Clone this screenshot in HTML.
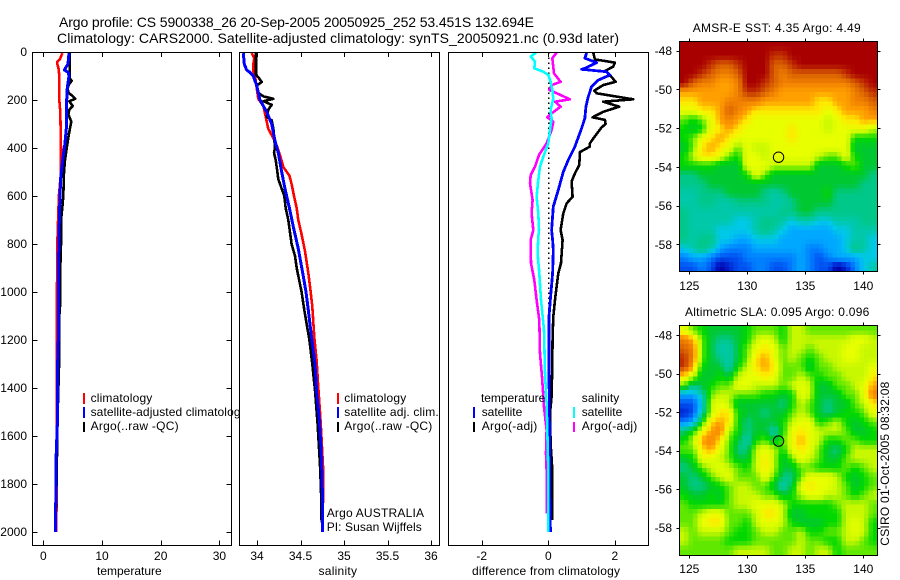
<!DOCTYPE html>
<html>
<head>
<meta charset="utf-8">
<style>
html,body{margin:0;padding:0;background:#fff;width:900px;height:580px;overflow:hidden}
svg{display:block}
text{font-family:"Liberation Sans",sans-serif;font-size:12px;fill:#000}
.title{font-size:14px}
</style>
</head>
<body>
<svg id="chart" xmlns="http://www.w3.org/2000/svg" width="900" height="580" viewBox="0 0 900 580">
<rect x="0" y="0" width="900" height="580" fill="#fff"/>
<text class="title" x="59" y="27" textLength="475" lengthAdjust="spacing">Argo profile: CS 5900338_26 20-Sep-2005 20050925_252 53.451S 132.694E</text>
<text class="title" x="57" y="43" textLength="562" lengthAdjust="spacing">Climatology: CARS2000. Satellite-adjusted climatology: synTS_20050921.nc (0.93d later)</text>

<g id="panel-temp"></g>
<g>
  <rect x="83" y="393" width="2" height="11" fill="#f00"/>
  <rect x="83" y="407" width="2" height="11" fill="#00f"/>
  <rect x="83" y="422" width="2" height="10" fill="#000"/>
  <text x="90.6" y="402" textLength="61.7">climatology</text>
  <text x="90.6" y="416" textLength="156">satellite-adjusted climatology</text>
  <text x="90.6" y="430" textLength="88">Argo(..raw -QC)</text>
</g>
<text x="97" y="575" textLength="64.7">temperature</text>

<g id="panel-sal"></g>
<g>
  <rect x="337" y="393" width="2" height="11" fill="#f00"/>
  <rect x="337" y="407" width="2" height="11" fill="#00f"/>
  <rect x="337" y="422" width="2" height="10" fill="#000"/>
  <text x="344.3" y="402" textLength="62">climatology</text>
  <text x="344.3" y="416" textLength="94.4">satellite adj. clim.</text>
  <text x="344.3" y="430" textLength="88">Argo(..raw -QC)</text>
  <text x="326.7" y="517" textLength="97.3">Argo AUSTRALIA</text>
  <text x="326.7" y="531" textLength="95">PI: Susan Wijffels</text>
</g>
<text x="318.5" y="575" textLength="38.5">salinity</text>

<g id="panel-diff"></g>
<g>
  <text x="481" y="402" textLength="64.3">temperature</text>
  <text x="581.7" y="402" textLength="37.6">salinity</text>
  <rect x="473" y="407" width="2" height="11" fill="#00f"/>
  <rect x="473" y="422" width="2" height="10" fill="#000"/>
  <rect x="573" y="407" width="2" height="11" fill="#0ff"/>
  <rect x="573" y="422" width="2" height="10" fill="#f0f"/>
  <text x="481.7" y="416" textLength="40.6">satellite</text>
  <text x="481.7" y="430" textLength="55.6">Argo(-adj)</text>
  <text x="581.7" y="416" textLength="40.6">satellite</text>
  <text x="581.7" y="430" textLength="55.6">Argo(-adj)</text>
</g>
<text x="472" y="575" textLength="148">difference from climatology</text>

<g id="map-sst"></g>
<text x="692.7" y="32" textLength="168">AMSR-E SST: 4.35 Argo: 4.49</text>
<g id="map-sla"></g>
<text x="685" y="316" textLength="184.3">Altimetric SLA: 0.095 Argo: 0.096</text>
<text transform="translate(889,545.7) rotate(-90)" x="0" y="0" textLength="164">CSIRO 01-Oct-2005 08:32:08</text>
</svg>

<script>
// ---- depth axis ----
const depthTicks = [0,200,400,600,800,1000,1200,1400,1600,1800,2000];
// ---- temperature panel ----
const tempTicks = [0,10,20,30];
const tempClimDepth = [5,30,40,50,70,100,200,250,400,500,600,800,1000,1130,1350,1600,1800,2000];
const tempClimValue = [3.24,2.84,2.39,2.39,2.61,2.73,2.73,2.9,3.01,3.01,2.65,2.39,2.33,2.27,2.27,2.3,2.3,2.2];
const tempArgoDepth = [5,100,110,120,135,150,170,180,195,205,225,240,260,290,340,400,450,500,600,650,700,800,900,1000,1060,1100,1200,1310,1500,1800,1960];
const tempArgoValue = [4.49,4.49,4.49,4.83,4.37,4.15,4.26,4.83,5.45,4.43,5.0,4.43,4.26,4.77,4.37,3.98,3.69,3.52,3.41,3.24,3.01,3.01,2.9,2.84,2.84,2.73,2.73,2.67,2.45,2.25,2.1];
const tempSatDepth = [5,50,75,85,100,150,200,300,380,450,530,600,700,800,900,1000,1200,1350,1550,1680,1880,1881,2000];
const tempSatValue = [4.37,4.2,3.58,4.26,4.37,4.09,3.98,3.98,3.69,3.3,2.95,2.84,2.73,2.67,2.56,2.56,2.56,2.39,2.39,2.2,2.2,2.05,2.05];
// ---- salinity panel ----
const salTicks = [34,34.5,35,35.5,36];
const salTickLabels = ['34','34.5','35','35.5','36'];
const salClimDepth = [5,25,50,80,100,150,195,225,320,360,390,430,480,515,550,600,650,700,760,830,920,1000,1060,1190,1290,1400,1500,1570,1670,1750,1880];
const salClimValue = [33.939,33.969,33.958,33.958,33.977,33.996,34.015,34.073,34.13,34.188,34.226,34.264,34.303,34.372,34.398,34.425,34.456,34.475,34.513,34.552,34.59,34.617,34.636,34.659,34.686,34.705,34.724,34.736,34.751,34.762,34.762];
const salArgoDepth = [5,95,105,125,140,170,185,195,205,220,240,270,285,320,350,400,420,450,500,530,600,650,700,800,850,900,1000,1075,1200,1300,1410,1550,1720,1825,1960];
const salArgoValue = [33.989,33.989,34.015,34.054,33.996,34.015,34.073,34.188,34.073,34.169,34.13,34.111,34.169,34.188,34.195,34.207,34.195,34.215,34.234,34.245,34.314,34.33,34.36,34.398,34.437,34.456,34.513,34.544,34.602,34.636,34.667,34.697,34.724,34.736,34.743];
const salSatDepth = [5,50,75,85,100,140,200,250,300,370,420,500,570,650,730,820,920,1000,1075,1190,1300,1420,1530,1650,1770,1900,2000];
const salSatValue = [33.843,33.854,33.881,33.92,33.958,33.996,34.034,34.111,34.169,34.207,34.245,34.284,34.322,34.372,34.418,34.475,34.525,34.563,34.59,34.628,34.667,34.686,34.716,34.736,34.747,34.755,34.755];
// ---- difference panel ----
const diffTicks = [-2,0,2];
const diffTempArgoDepth = [3,31,44,61,78,96,124,138,161,172,197,207,228,249,272,283,300,314,360,381,394,417,471,506,540,603,631,672,742,783,880,922,978,1033,1103,1186,1297,1436,1505,1630,1742,1950];
const diffTempArgoValue = [1.35,1.4,2.0,1.95,1.72,1.85,2.02,1.65,1.38,1.45,2.55,1.65,2.13,1.65,1.33,1.7,1.72,1.6,1.35,1.25,1.25,0.95,0.93,0.8,0.7,0.73,0.55,0.45,0.37,0.43,0.38,0.3,0.25,0.2,0.15,0.13,0.12,0.1,0.05,0.07,0.12,0.12];
const diffTempSatDepth = [3,26,44,68,72,82,96,117,144,186,228,276,318,394,450,499,575,644,742,783,825,922,1019,1103,1297,1505,1950,2000];
const diffTempSatValue = [1.15,1.1,1.45,1.1,1.0,1.75,1.85,1.5,1.3,1.2,1.13,1.1,1.0,0.8,0.6,0.45,0.3,0.15,0.1,0.13,0.15,0.13,0.07,0.02,0.02,0.03,0.05,0.07];
const diffSalArgoDepth = [3,26,89,124,138,158,197,207,228,256,272,290,325,381,429,478,513,547,617,672,742,783,880,950,1033,1117,1256,1353,1478,1575,1672,1742,1922];
const diffSalArgoValue = [0.25,0.12,0.17,0.37,0.1,0.03,0.65,0.2,0.37,0.1,-0.03,0.15,0.1,-0.05,-0.28,-0.4,-0.53,-0.55,-0.47,-0.5,-0.45,-0.53,-0.52,-0.42,-0.35,-0.27,-0.25,-0.19,-0.13,-0.05,-0.07,-0.05,-0.05];
const diffSalSatDepth = [3,19,40,68,82,96,124,158,193,242,276,325,381,436,478,533,603,672,742,770,839,922,1033,1158,1339,1464,1575,1742,1999];
const diffSalSatValue = [-0.37,-0.53,-0.4,-0.42,-0.15,0,0.07,0.12,0.15,0.07,0.1,0.05,0,-0.15,-0.25,-0.3,-0.35,-0.3,-0.28,-0.3,-0.32,-0.27,-0.22,-0.13,-0.1,-0.05,-0.03,0,0];
// ---- map axes ----
const lonTicks = [125,130,135,140];
const latTicks = [-48,-50,-52,-54,-56,-58];
const markerLon = [132.694];
const markerLat = [-53.451];
// ---- map fields (colour-scale level per grid cell, north to south) ----
const sstField = [
[18,18,18,18,18,18,18,18,18,18,18,18,18,18,18,18,18,18,18,18,18,18],
[18,18,18,18,18,18,18,18,18,18,17,17,18,18,18,18,18,18,18,18,18,18],
[18,18,18,17,16,16,17,18,18,18,16,16,17,18,18,18,18,18,18,18,18,18],
[18,18,17,16,15,15,16,18,18,18,16,15,16,16,16,16,16,16,17,18,18,18],
[18,16,15,15,14,14,15,18,18,17,16,15,15,15,15,15,15,15,15,16,17,18],
[14,14,14,14,14,14,15,17,17,16,15,14,14,14,14,14,14,14,14,15,16,17],
[13,13,14,14,14,15,15,15,15,14,14,14,14,14,14,13,13,14,14,15,15,16],
[12,12,13,13,14,16,15,14,13,13,13,13,13,13,13,13,12,13,14,14,14,15],
[10,9,10,12,14,15,14,13,12,12,12,12,12,12,12,12,11,12,13,13,14,14],
[9,8,9,12,13,14,13,12,12,12,12,12,13,12,12,12,11,12,12,12,12,11],
[9,10,12,13,14,13,12,12,12,12,12,12,13,12,12,12,12,12,12,9,9,9],
[8,10,13,14,13,12,10,12,11,11,12,12,12,12,12,12,12,12,12,8,8,8],
[9,11,13,13,12,10,9,12,12,11,12,12,12,12,12,11,10,10,12,9,8,8],
[9,9,9,9,8,8,8,12,12,12,11,11,11,11,11,8,8,8,9,10,8,8],
[7,7,8,8,8,8,8,9,12,10,8,8,8,8,8,8,8,8,8,8,8,7],
[7,7,7,8,8,8,8,8,8,8,8,8,8,8,8,8,8,8,8,8,7,7],
[6,6,7,7,7,8,8,8,8,7,6,7,8,8,8,8,9,7,7,7,7,7],
[6,6,7,7,6,6,7,7,7,7,6,6,7,8,8,8,8,7,7,7,7,7],
[7,6,6,6,6,6,6,6,6,6,6,7,7,8,8,7,7,7,7,7,7,7],
[7,6,6,6,6,6,5,5,6,7,7,6,5,6,6,5,5,6,6,6,7,7],
[7,6,6,6,5,5,5,5,6,7,6,5,4,4,4,4,4,5,5,6,6,6],
[7,6,7,7,5,5,4,4,5,5,5,4,4,4,4,4,4,4,5,6,6,5],
[5,6,7,6,4,3,3,3,4,4,4,4,4,4,3,3,4,4,5,7,6,5],
[3,4,4,3,2,2,2,3,3,3,3,3,3,4,3,2,3,4,4,4,5,5],
[2,2,3,2,0,1,2,2,3,3,2,2,3,4,3,2,2,0,1,3,5,6]
];
const slaField = [
[12,10,9,8,8,8,8,9,10,10,10,9,11,11,10,10,10,10,10,10,10,10],
[15,14,10,8,7,7,8,9,11,12,11,9,11,11,11,11,11,11,11,12,12,11],
[16,15,10,8,6,6,8,10,12,13,12,10,11,11,10,11,11,11,12,12,11,11],
[17,15,10,8,7,6,8,10,13,14,12,10,11,10,9,10,11,11,12,12,11,11],
[17,14,9,8,8,6,9,11,13,14,13,10,10,10,8,10,10,11,11,11,11,12],
[13,11,8,8,9,8,11,12,12,13,12,10,10,11,10,9,10,10,11,11,11,13],
[10,7,8,9,10,10,12,12,11,11,11,10,11,12,11,8,8,10,10,11,12,14],
[4,4,6,10,11,11,10,10,10,9,9,8,9,12,11,8,8,8,10,10,12,15],
[2,2,5,11,12,11,8,8,8,8,8,7,9,11,10,8,7,8,8,10,11,13],
[1,2,6,11,13,13,9,8,8,7,8,8,10,11,10,8,7,8,9,9,10,12],
[3,4,9,13,14,13,9,7,8,8,8,9,11,12,12,9,10,11,9,8,9,10],
[7,9,12,14,15,11,9,7,8,8,6,9,12,13,12,11,11,11,10,8,8,9],
[9,11,14,15,13,10,8,6,9,10,8,10,12,14,12,11,9,9,10,10,9,9],
[10,10,13,14,12,10,7,7,11,12,11,9,12,13,12,10,8,7,9,11,11,11],
[8,9,12,12,11,10,8,8,11,13,11,8,10,12,11,10,8,8,10,11,11,11],
[7,8,10,11,12,11,10,9,11,13,11,8,8,10,10,9,9,9,10,9,10,11],
[8,7,8,10,11,12,10,10,10,12,10,7,7,10,12,12,12,11,9,8,9,10],
[8,7,7,8,9,10,11,11,10,10,8,6,8,12,13,12,12,11,10,8,9,10],
[9,8,8,9,8,10,11,11,11,10,10,8,9,11,12,12,11,11,10,9,10,11],
[10,9,9,9,9,10,11,11,12,12,12,11,9,9,9,9,9,10,11,11,11,10],
[10,10,11,12,12,10,10,10,11,13,13,11,8,8,9,9,9,9,11,11,11,10],
[10,10,12,13,13,10,10,9,11,12,12,11,9,8,8,8,9,9,11,12,11,9],
[11,10,11,11,11,10,9,9,10,11,11,10,10,11,9,9,10,10,11,12,11,9],
[11,10,10,10,10,9,9,9,10,10,10,10,10,11,10,10,9,9,11,11,10,9],
[10,10,10,10,10,10,11,11,11,11,10,10,11,11,10,11,11,9,10,10,10,10]
];

const NS = 'http://www.w3.org/2000/svg';
const colourStops = ['#0000a0','#0020d0','#0050f0','#0080ff','#00a8ff','#00c8e8','#00c8a8','#00c888','#00c830','#00d800','#60e800','#c8f800','#e8ff00','#ffe800','#ffa000','#f08000','#d86000','#c03000','#a80000'];

function el(parent, tag, attrs, txt) {
  const e = document.createElementNS(NS, tag);
  for (const k in attrs) e.setAttribute(k, attrs[k]);
  if (txt !== undefined) e.textContent = txt;
  parent.appendChild(e);
  return e;
}
function depthY(d) { return 52 + d * 0.24; }
function tempX(v) { return 43.3 + 5.87 * v; }
function salX(v) { return 257 + 87 * (v - 34); }
function diffX(v) { return 548.3 + 33.3 * v; }
function lonX(v) { return 689.3 + 11.6 * (v - 125); }
function sstLatY(v) { return 50.7 + 19.36 * (-48 - v); }
function slaLatY(v) { return 335 + 19.27 * (-48 - v); }

function profileLine(g, name, colour, depths, values, xFn, w) {
  const pts = depths.map((d, i) => xFn(values[i]).toFixed(1) + ',' + depthY(d).toFixed(1)).join(' ');
  const line = el(g, 'polyline', {points: pts, fill: 'none', stroke: colour, 'stroke-width': w, 'shape-rendering': 'crispEdges', 'stroke-linejoin': 'round'});
  
  
}
function panelFrame(g, left, right) {
  const bg = el(g, 'rect', {x: left, y: 52.5, width: right - left, height: 493, fill: '#fff'});
  
  
}
function panelBorder(g, left, right) {
  const b = el(g, 'rect', {x: left, y: 52.5, width: right - left, height: 493, fill: 'none', stroke: '#000', 'stroke-width': 1, 'shape-rendering': 'crispEdges'});
  
  
}
function xAxis(g, ticks, labels, xFn) {
  ticks.forEach((t, i) => {
    const x = Math.round(xFn(t)) + 0.5;
    const top = el(g, 'line', {x1: x, x2: x, y1: 52.5, y2: 57, stroke: '#000', 'shape-rendering': 'crispEdges'});
    
    
    const bot = el(g, 'line', {x1: x, x2: x, y1: 540.5, y2: 545.5, stroke: '#000', 'shape-rendering': 'crispEdges'});
    
    
    const lab = el(g, 'text', {x: xFn(t), y: 560, 'text-anchor': 'middle'}, labels[i]);
    
    
  });
}

// temperature panel
const gT = document.getElementById('panel-temp');
panelFrame(gT, 32.5, 231.5);
profileLine(gT, 'temperature-climatology-line', '#f00', tempClimDepth, tempClimValue, tempX, 2.6);
profileLine(gT, 'temperature-argo-line', '#000', tempArgoDepth, tempArgoValue, tempX, 2.6);
profileLine(gT, 'temperature-satellite-line', '#00f', tempSatDepth, tempSatValue, tempX, 3);
panelBorder(gT, 32.5, 231.5);
xAxis(gT, tempTicks, tempTicks.map(String), tempX);
depthTicks.forEach(d => {
  const y = Math.round(depthY(d)) + 0.5;
  const l = el(gT, 'line', {x1: 32.5, x2: 37.5, y1: y, y2: y, stroke: '#000', 'shape-rendering': 'crispEdges'});
  
  
  const r = el(gT, 'line', {x1: 226.5, x2: 231.5, y1: y, y2: y, stroke: '#000', 'shape-rendering': 'crispEdges'});
  
  
  const lab = el(gT, 'text', {x: 27, y: depthY(d) + 4, 'text-anchor': 'end'}, String(d));
  
  
});

// salinity panel
const gS = document.getElementById('panel-sal');
panelFrame(gS, 239.5, 439.5);
profileLine(gS, 'salinity-climatology-line', '#f00', salClimDepth, salClimValue, salX, 2.6);
profileLine(gS, 'salinity-argo-line', '#000', salArgoDepth, salArgoValue, salX, 2.6);
profileLine(gS, 'salinity-satellite-line', '#00f', salSatDepth, salSatValue, salX, 3);
panelBorder(gS, 239.5, 439.5);
xAxis(gS, salTicks, salTickLabels, salX);

// difference panel
const gD = document.getElementById('panel-diff');
panelFrame(gD, 448.5, 648.5);
const zeroLine = el(gD, 'line', {x1: 548.5, x2: 548.5, y1: 52.5, y2: depthY(2000), stroke: '#000', 'stroke-width': 1.5, 'stroke-dasharray': '1.5 3.5', 'shape-rendering': 'crispEdges'});


profileLine(gD, 'temperature-argo-minus-adjusted-line', '#000', diffTempArgoDepth, diffTempArgoValue, diffX, 2.6);
profileLine(gD, 'temperature-satellite-difference-line', '#00f', diffTempSatDepth, diffTempSatValue, diffX, 2.8);
profileLine(gD, 'salinity-argo-minus-adjusted-line', '#f0f', diffSalArgoDepth, diffSalArgoValue, diffX, 2.6);
profileLine(gD, 'salinity-satellite-difference-line', '#0ff', diffSalSatDepth, diffSalSatValue, diffX, 2.6);
panelBorder(gD, 448.5, 648.5);
xAxis(gD, diffTicks, diffTicks.map(String), diffX);

// maps
function colourFor(level) {
  const v = Math.max(0, Math.min(colourStops.length - 1, level));
  const i = Math.min(colourStops.length - 2, Math.floor(v));
  const f = v - i;
  const a = colourStops[i], b = colourStops[i + 1];
  const ch = s => [1, 3, 5].map(p => parseInt(s.substr(p, 2), 16));
  const ca = ch(a), cb = ch(b);
  return 'rgb(' + ca.map((c, n) => Math.round(c + (cb[n] - c) * f)).join(',') + ')';
}
function sampleField(field, r, c) {
  const R = Math.max(0, Math.min(field.length - 1, r));
  const C = Math.max(0, Math.min(field[0].length - 1, c));
  const r0 = Math.floor(R), c0 = Math.floor(C);
  const r1 = Math.min(field.length - 1, r0 + 1), c1 = Math.min(field[0].length - 1, c0 + 1);
  const fr = R - r0, fc = C - c0;
  return (field[r0][c0] * (1 - fc) + field[r0][c1] * fc) * (1 - fr) + (field[r1][c0] * (1 - fc) + field[r1][c1] * fc) * fr;
}
function drawMap(id, name, field, latY, top, bottom, labelY) {
  const g = document.getElementById(id);
  const lonMin = 124.14, lonMax = 141.21, latTop = -47.53, latBot = -59.4;
  const sub = 2;
  const nr = field.length * sub, nc = field[0].length * sub;
  for (let r = 0; r < nr; r++) {
    for (let c = 0; c < nc; c++) {
      const x0 = lonX(lonMin + (lonMax - lonMin) * c / nc), x1 = lonX(lonMin + (lonMax - lonMin) * (c + 1) / nc);
      const y0 = latY(latTop + (latBot - latTop) * r / nr), y1 = latY(latTop + (latBot - latTop) * (r + 1) / nr);
      const level = sampleField(field, (r + 0.5) / sub - 0.5, (c + 0.5) / sub - 0.5);
      const cell = el(g, 'rect', {x: x0.toFixed(2), y: y0.toFixed(2), width: (x1 - x0 + 0.4).toFixed(2), height: (y1 - y0 + 0.4).toFixed(2), fill: colourFor(level), 'shape-rendering': 'crispEdges'});
      
      
    }
  }
  const frame = el(g, 'rect', {x: 679.5, y: top, width: 198, height: bottom - top, fill: 'none', stroke: '#000', 'shape-rendering': 'crispEdges'});
  
  
  lonTicks.forEach(t => {
    const x = Math.round(lonX(t)) + 0.5;
    const a = el(g, 'line', {x1: x, x2: x, y1: top - 3, y2: top, stroke: '#000', 'shape-rendering': 'crispEdges'});
    
    
    const b = el(g, 'line', {x1: x, x2: x, y1: bottom, y2: bottom + 3, stroke: '#000', 'shape-rendering': 'crispEdges'});
    
    
    const lab = el(g, 'text', {x: lonX(t), y: labelY, 'text-anchor': 'middle'}, String(t));
    
    
  });
  latTicks.forEach(t => {
    const y = Math.round(latY(t)) + 0.5;
    const a = el(g, 'line', {x1: 676.5, x2: 679.5, y1: y, y2: y, stroke: '#000', 'shape-rendering': 'crispEdges'});
    
    
    const b = el(g, 'line', {x1: 877.5, x2: 880.5, y1: y, y2: y, stroke: '#000', 'shape-rendering': 'crispEdges'});
    
    
    const lab = el(g, 'text', {x: 672, y: latY(t) + 4.5, 'text-anchor': 'end'}, String(t));
    
    
  });
  const marker = el(g, 'circle', {cx: lonX(markerLon[0]), cy: latY(markerLat[0]) + 1, r: 5.2, fill: 'none', stroke: '#000', 'stroke-width': 1});
  
  
}
drawMap('map-sst', 'sst-map', sstField, sstLatY, 41.5, 271.5, 290);
drawMap('map-sla', 'sla-map', slaField, slaLatY, 325.5, 555.5, 573);
</script>
</body>
</html>
